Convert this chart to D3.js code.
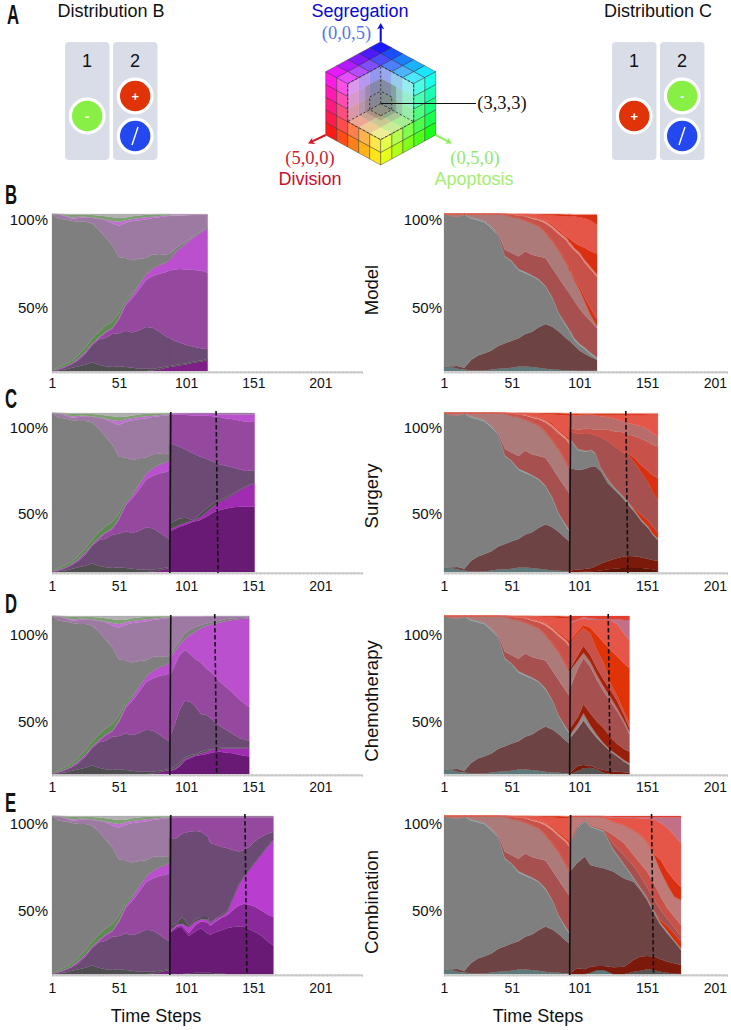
<!DOCTYPE html>
<html><head><meta charset="utf-8">
<script src="https://cdnjs.cloudflare.com/ajax/libs/d3/7.8.5/d3.min.js"></script>
<style>html,body{margin:0;padding:0;background:#fff}svg{display:block}text{font-family:"Liberation Sans",Arial,sans-serif;fill:#111}</style>
</head><body><svg id="c" width="731" height="1030"></svg>
<script>
// ---------- tick labels ----------
const timeTicks=[1,51,101,151,201];
const percentTicks=[50,100];
const rowNames=["Model","Surgery","Chemotherapy","Combination"];
const rowLetters=["B","C","D","E"];
const FULL=100;

// ---------- pre-treatment, Distribution B (cumulative % from bottom) ----------
const lSteps=[1,6,11,16,21,26,31,36,41,46,51,56,61,66,71,76,81,86,89];
const lDark=[0,0,0,0,0,0,0,0,0,0,0,0,0,0,0,.3,1,2,2.5];
const lGrayDark=[0,.5,1,2,3,4,5.5,4,3,2.5,3,2.5,2,1.5,1.5,1.5,2,2.8,3.2];
const lDusky=[0,1,2.5,4.5,7,11,16.5,20,21,23.5,24,25.7,24.5,26,28,27.5,25,22,20.5];
const lMid=[0,1,2.5,4.5,8,12,17,21,24.5,27,33,42,46.5,52,58,60.5,62,63,64];
const lMagenta=[0,1.5,3,5,8.5,12.5,17.5,21.5,25,27.5,34,43.5,48.5,55,61.5,65,67.5,69,71];
const lGreen=[0,2.5,4.5,6.5,10.5,15,20.5,25,29,31.5,37,45.5,49.5,55.3,61.7,65.2,67.7,69.2,71.2];
const lGray=[100,97,96.5,95.5,95,95,94,90,85,80,72.5,72,70.5,71.5,72,74,74.5,74,75];
const lMauve=[100,99.7,98.5,97,97.5,98,97.5,97,96,94,92.5,94.5,95.5,96,96.5,97.5,98,98.5,98.7];
const lLightMag=[100,99.8,99,97.8,98.3,98.2,97.8,97.3,96.5,95.5,95,96,96.8,97.5,98,98.3,98.7,99,99.1];
const lTopGreen=[100,100,99.8,99.6,99.6,99.7,99.3,99,98.5,98,97.5,97.7,98.5,99,99.5,99.7,99.8,99.8,99.8];

// ---------- pre-treatment, Distribution C ----------
const rSteps=[1,6,11,16,21,26,31,36,41,46,51,56,61,66,71,76,81,86,91,94];
const rTeal=[2.5,2.5,1.5,1,.3,.3,.3,1,1.5,1.7,2,2.8,2.8,2.5,2,1.5,1,.8,.5,.4];
const rBrown=[2.5,3,3.2,2,7,9.8,11.3,13,16,17.6,19.3,20.8,23.6,25,27.8,30,28.2,25,21,19];
const rGray=[100,98.5,98,99.5,97.2,96,94.7,91,86.6,72.8,69.6,64.3,62.2,60.5,58,53.7,46.3,36,29,25];
const rEdge=[100,98.5,98,99.8,97.9,96.8,95.5,91.8,87,73.2,70,65,63,61,58.5,54.2,46.8,36.5,29.7,26];
const rRed=[100,98.6,98.2,99.9,98,97,95.8,92,87.8,77.3,75.2,73,76.2,74,73,71.9,65.5,59,52.7,49];
const rRose=[100,100,100,100,100,100,100,100,100,99.5,98,97.3,95.7,94,92,87.7,82.5,76.5,69,64];
const rVivid1=[100,100,100,100,100,100,100,100,100,99.6,98.2,97.5,96,94.3,92.4,88.2,83,77,69.8,65];
const rMid=[100,100,100,100,100,100,100,100,100,100,99.5,99,98.5,97,96,94,91,87,83.5,80];
const rPale=[100,100,100,100,100,100,100,100,100,100,99.7,99.3,99,97.8,97,95.5,92.5,88.5,85,82];
const rVivid2=[100,100,100,100,100,100,100,100,100,100,99.7,99.4,99.1,98,97.5,96,93.5,89.5,86,84];
const rBright=[100,100,100,100,100,100,100,100,100,100,100,100,100,99.8,99.5,99.3,99,98.8,98.5,98.5];
const rVivid3=[100,100,100,100,100,100,100,100,100,100,100,100,100,100,100,100,100,100,99.8,99.8];

// ---------- Model, Distribution B ----------
const bLSteps=[89,93,97,101,105,109,113,117];
const bLDark=[2.5,3.1,3.7,4.2,4.9,5.5,6.1,7];
const bLGrayDark=[3.2,3.8,4.4,5,5.7,6.3,6.9,7.8];
const bLDusky=[20.5,19,17.8,16.5,15.7,15,14.3,13.8];
const bLMid=[64,64.8,65,64.5,64.5,64.2,64,62.5];
const bLMagenta=[71,75.5,78.5,81,84,86.5,88.7,91];
const bLGray=[75,78,80.5,82.5,85,87.5,89.5,92];
const bLMauve=[98.7,98.9,99,99.2,99.3,99.4,99.5,99.5];

// ---------- Model, Distribution C ----------
const bRSteps=[94,97,101,105,109,113,114];
const bRTeal=[.4,.3,.2,.1,.1,.1,.1];
const bRBrown=[19,16.5,13,11,9,7.5,7];
const bRGray=[25,20,16.6,14,11,8.5,8];
const bREdge=[26,21,17.4,14.8,11.8,9.2,8.6];
const bRRed=[49,45,40,35.5,32,28,27.2];
const bRRose=[64,58,52,44,36,30,29];
const bRVivid1=[65,59,54,47,40.5,34,33];
const bRMid=[80,77,74,69,65,61,60];
const bRPale=[82,78.5,75.5,70.5,66.5,62.5,61.5];
const bRVivid2=[84,82,80,78.5,76.5,75,75];
const bRBright=[98.5,98.5,98,97.3,96,93.7,93];
const bRVivid3=[99.8,99.6,99.6,99.6,99.6,99.6,99.6];

// ---------- Surgery, Distribution B ----------
const cLSteps=[89,96,101,106,111,116,121,126,131,136,141,146,152];
const cLDark=[25.7,28.4,29.9,31.6,32.6,34.7,37.5,38.9,40,40.8,41,41,41];
const cLVivid=[26.9,29.5,31.2,32.4,34.1,37.5,41.1,44.2,46.3,48.8,51.6,53.7,55.8];
const cLGrayDark=[30.5,33.7,34.1,32.6,36.2,40,43.2,45.3,47.4,49.5,52,54.1,56.2];
const cLDusky=[81,79,76.8,74.7,72.6,71.2,69.5,67.8,66.7,65.7,64.4,63.6,64];
const cLMid=[98.9,98.9,98.7,98.5,98.5,98.3,97.9,97.5,96.6,96,95.2,94.5,94.3];
const cLBright=[99.5,99.5,99.5,99.4,99.4,99.4,99.3,99.2,99.2,99.1,99.1,99,99];

// ---------- Surgery, Distribution C ----------
const cRSteps=[94,100,105,110,113,117,122,127,132,137,142,147,152,155,159];
const cRMaroonDark=[0,0,.2,.4,.6,1,1.7,2.1,2.5,2.5,2.5,2.5,2.1,1.7,1];
const cRMaroon=[1,1.5,1.9,2.5,3.8,5.3,6.9,8.4,9.5,10.1,9.9,9.1,8.2,7.6,6.9];
const cRBrown=[65.3,64.2,64.8,66.3,66.3,63.2,55.8,51.6,47.4,42.1,37.5,31.6,27.4,23.6,20];
const cRGray=[83.2,76.8,75.8,76.2,74.1,64.8,57.9,52.6,48.4,43.2,37.9,32.2,27.8,24,20.4];
const cREdge=[84,77.4,76.4,76.8,74.7,65.4,58.5,53.2,49,43.8,38.5,32.7,28.3,24.4,20.8];
const cRVividLow=[84.1,77.5,76.5,76.9,74.8,65.5,58.6,53.3,49.1,44,40,35.8,32,28.6,24.8];
const cRRed=[88.4,86.7,87.4,86.7,85.9,84.6,82.1,78.9,75.4,73.7,68.4,62.1,55.8,50.5,45.3];
const cRVividMid=[88.5,86.8,87.5,86.8,86,84.7,82.2,79,75.5,74.5,71.5,67,63.2,61,59];
const cRMid=[90.5,89.5,90.1,89.9,89.5,89.5,89.5,88.4,88,86.7,85.3,83.6,81.7,80,78.9];
const cRRose=[98.5,98.5,98.9,98.9,98.5,97.9,97.3,96.4,95.2,93.7,92.6,91.6,89.5,87.4,85.3];
const cRBright=[98.7,98.7,99,99,98.7,98.5,98.5,98.5,98.6,98.7,98.8,98.8,98.9,99,98.9];
const cRVivid3=[99.4,99.4,99.4,99.4,99.4,99.4,99.4,99.4,99.4,99.4,99.4,99.4,99.4,99.4,99.4];

// ---------- Chemotherapy, Distribution B ----------
const dLSteps=[89,92,96,100,104,108,112,116,121,126,131,136,141,148];
const dLDark=[2,2.5,4.6,8.4,9.9,11.4,12,12.7,13.7,14.1,13.5,13.1,12,11];
const dLVivid=[2.2,3,5.5,9.3,10.7,12,13,14,15.6,15.8,16.3,16.3,16.3,16.3];
const dLGrayDark=[3,4.5,7.2,10.5,12,12.7,14.1,15.2,15.8,16.6,16.6,16.8,16.6,16.6];
const dLDusky=[24,30,40.5,46.4,45.8,42.6,38,37.3,34.2,30.4,27.8,25.1,22.6,21.1];
const dLMid=[62,67.9,75.3,78.5,75.9,72.6,70.5,66.9,63.3,58.4,54.9,51.1,46.8,42.2];
const dLMagenta=[72.6,76.8,81.6,85.2,88,90.1,92.2,93.7,94.9,95.8,96.8,97.5,98.1,98.5];
const dLGray=[74.3,79.5,83.8,89,91.6,93.2,94.3,95.2,96.2,97,98.1,98.5,98.7,98.9];
const dLMauve=[99.4,99.5,99.6,99.6,99.7,99.7,99.7,99.8,99.8,99.8,99.8,99.8,99.8,99.8];

// ---------- Chemotherapy, Distribution C ----------
const dRSteps=[94,100,104,109,114,119,124,129,134,138];
const dRGrayDark=[0,2.1,3.6,4,3,.8,0,0,0,0];
const dRMaroonLine=[.8,5.3,5.7,5.3,3.6,2.5,1.9,1.5,1.1,.8];
const dRBrown=[22.6,28.9,33.8,27.8,22.6,18.4,14.1,11,7.8,5.7];
const dRGrayLight=[24.7,32.1,38.4,31,24.7,19.4,15.2,12,8.9,6.8];
const dRMaroon=[28.9,36.3,44.3,38.4,33,28.9,23.2,19,15.8,14.1];
const dRRed=[54.2,66.9,73.2,67.9,59.5,52.1,45.8,39.5,32.1,24.7];
const dRRose=[65.4,72.2,76.8,71.1,62.7,55.3,48.5,41.6,33.8,26.8];
const dRMaroon2=[66.5,75.3,81.2,75.3,66.9,59.5,53.2,46,37,29];
const dRMid=[82.7,89,92.2,89,78.5,70,57.4,49,39.5,32.1];
const dRVivid=[84.4,90.7,94.3,92.8,88,83.1,78.5,74.3,70,66.9];
const dRBright=[95.4,97.5,98.5,97.5,97.5,97.5,97.5,94.9,89,84.4];
const dRMauve=[96.2,97.9,99.2,98.5,98.1,98.1,98.1,97.9,97.5,97.5];

// ---------- Combination, Distribution B ----------
const eLSteps=[89,94,98,103,108,112,117,119,122,127,132,136,140,144,148,152,157,162,166];
const eLBase=[0,0,0,.5,.8,.8,.8,.8,.5,.3,0,0,0,0,0,0,0,0,0];
const eLDark=[25.9,29.1,29.1,24.2,26.9,29.1,25.5,24.8,26.3,27.6,29.1,29.7,30.1,29.9,28.4,26.7,24.2,20.6,17.9];
const eLVivid=[26.9,30.1,30.5,25.9,31.2,33.3,32.6,30.5,32.6,35.4,37.5,40.6,43.2,44.4,43.8,42.7,40.2,37.5,36];
const eLBright=[27.6,31.2,31.8,29.5,33.3,34.7,34.3,31.8,34.3,36.4,39.6,48,55.8,61.3,65.5,70.1,75.4,80.6,84.8];
const eLGrayDark=[30.5,32.2,36.4,30.5,34.7,36,36,32.2,34.7,37.3,40.6,48.6,56.4,61.7,65.9,70.5,75.8,81.1,85.3];
const eLDusky=[85.9,85.9,89,90.1,90.5,90.1,87,82.7,82.1,80.6,79.6,78.5,77.5,78.5,80.6,83.8,86.9,89,90.1];
const eLMid=[99.2,99.2,99.2,99.2,99.2,99.2,99.2,99.2,99.2,99.2,99.2,99.2,99.2,99.2,99.2,99.2,99.2,99.2,99.2];

// ---------- Combination, Distribution C ----------
const eRSteps=[94,99,105,109,114,119,126,134,141,146,151,156,161,166,171,176];
const eRTeal=[0,0,0,.8,2.5,2.5,0,0,0,0,0,0,0,0,0,0];
const eRGrayDark=[0,0,0,.8,2.5,2.5,0,0,1.5,2,3,2.5,1.5,.8,.3,0];
const eRMaroon=[.4,3.6,3,4.6,5.1,5.1,4.2,4.6,8.9,11,11.4,11,9.3,7.8,6.8,5.7];
const eRBrown=[64.8,70,74.3,69,67.9,66.9,64.8,60.5,58.4,53.2,46.8,38.4,31,25.7,20.5,15.2];
const eRGray=[81.6,92.2,97,93.2,91.6,90.1,78.5,69,60.5,54.2,47.9,39.5,31.6,26.2,20.9,15.6];
const eREdge=[82.3,92.9,97.7,93.9,92.3,90.8,79.2,69.7,61.2,54.9,48.6,40.2,32.3,26.9,21.4,16.1];
const eRVividLow=[82.4,93,97.8,94,92.4,90.9,79.3,69.8,61.3,55,48.7,40.4,34,30.5,26,20.8];
const eRRed=[83,93.2,98,94.2,92.5,91.5,82.5,75,68.5,62,55,47,40.5,34.7,29.5,23.8];
const eRMid=[83.1,93.3,98.1,94.3,92.6,91.6,88,82.7,75.3,70,64.8,57.4,48.9,41.6,36.3,31];
const eRRose=[99.6,99.6,99.6,99.6,99.6,99.2,96.4,94.3,91.1,88,83.8,75.3,64.8,56.3,48.9,46.8];
const eRVivid=[99.7,99.7,99.7,99.7,99.7,99.3,96.5,94.4,91.2,88.1,83.9,76,72.2,64.8,59.5,54.9];
const eRBright=[99.8,99.8,99.8,99.8,99.8,99.6,99,99,98.7,98.5,98.3,97.9,95.7,92.4,88,82.7];
const eRMauve=[99.9,99.9,99.9,99.9,99.9,99.9,99.3,99.3,99.2,99.2,99.2,99.2,99.2,99.2,99.2,99.2];

// ---------- treatment start / end steps ----------
const lStarts=[null,89,89,89], lEnds=[null,124,123,145.5];
const rStarts=[null,94,94,94], rEnds=[null,136,123,155];

// ---------- colours ----------
const P={dp:"#7f1f88",deep:"#691a74",viv:"#a02cb2",dg:"#4f4f4f",dusky:"#6b4a74",mid:"#94499f",mag:"#bb50cf",grn:"#5c8a50",gray:"#7f7f7f",mauve:"#9c7aa2",lm:"#c070d0",tg:"#7da070",lg:"#b0aeb0"};
const R={teal:"#5f7a7c",brown:"#6e4343",gray:"#7f7f7f",edge:"#86a6a6",red:"#a65050",rose:"#ad7a7a",viv:"#d83010",mid:"#c8524a",pale:"#e0857c",bright:"#e55548",top:"#ee9a90",mar:"#7b1a0a",marD:"#5c1408",hot:"#e04030",mauve:"#c27087",gl:"#97888a",m2:"#a8220c",dg:"#555555"};

const lPreSeries=[lDark,lGrayDark,lDusky,lMid,lMagenta,lGreen,lGray,lMauve,lLightMag,lTopGreen];
const lPreColors=[P.dp,P.dg,P.dusky,P.mid,P.mag,P.grn,P.gray,P.mauve,P.lm,P.tg,P.lg];
const rPreSeries=[rTeal,rBrown,rGray,rEdge,rRed,rRose,rVivid1,rMid,rPale,rVivid2,rBright,rVivid3];
const rPreColors=[R.teal,R.brown,R.gray,R.edge,R.red,R.rose,R.viv,R.mid,R.pale,R.viv,R.bright,R.viv,R.top];

const postLeft=[
 {steps:bLSteps,series:[bLDark,bLGrayDark,bLDusky,bLMid,bLMagenta,bLGray,bLMauve],colors:[P.dp,P.dg,P.dusky,P.mid,"#bb50cf",P.gray,P.mauve,"#b59abb"]},
 {steps:cLSteps,series:[cLDark,cLVivid,cLGrayDark,cLDusky,cLMid,cLBright],colors:[P.deep,P.viv,P.dg,P.dusky,P.mid,P.mag,P.mauve]},
 {steps:dLSteps,series:[dLDark,dLVivid,dLGrayDark,dLDusky,dLMid,dLMagenta,dLGray,dLMauve],colors:[P.deep,P.viv,"#555555",P.dusky,P.mid,P.mag,P.gray,P.mauve,"#b59abb"]},
 {steps:eLSteps,series:[eLBase,eLDark,eLVivid,eLBright,eLGrayDark,eLDusky,eLMid],colors:["#4d3d50",P.deep,"#8a2a9a","#b93ecf",P.dg,P.dusky,P.mid,P.mauve]}
];
const postRight=[
 {steps:bRSteps,series:[bRTeal,bRBrown,bRGray,bREdge,bRRed,bRRose,bRVivid1,bRMid,bRPale,bRVivid2,bRBright,bRVivid3],colors:rPreColors},
 {steps:cRSteps,series:[cRMaroonDark,cRMaroon,cRBrown,cRGray,cREdge,cRVividLow,cRRed,cRVividMid,cRMid,cRRose,cRBright,cRVivid3],colors:[R.marD,R.mar,R.brown,R.gray,R.edge,R.viv,R.red,R.viv,R.mid,"#b96d6a",R.bright,R.viv,R.top]},
 {steps:dRSteps,series:[dRGrayDark,dRMaroonLine,dRBrown,dRGrayLight,dRMaroon,dRRed,dRRose,dRMaroon2,dRMid,dRVivid,dRBright,dRMauve],colors:[R.dg,R.mar,R.brown,R.gl,"#9a1f0a",R.red,R.rose,R.m2,R.mid,"#e03408",R.bright,R.mauve,R.hot]},
 {steps:eRSteps,series:[eRTeal,eRGrayDark,eRMaroon,eRBrown,eRGray,eREdge,eRVividLow,eRRed,eRMid,eRRose,eRVivid,eRBright,eRMauve],colors:[R.teal,R.dg,R.mar,R.brown,R.gray,R.edge,R.viv,R.red,R.mid,"#c07a78",R.viv,R.bright,R.mauve,R.hot]}
];

const svg=d3.select("#c");
const rowPx=[[214,371],[413,572],[616,774],[816,974]];
const labelPx=[[308,220],[514,428],[722,635],[911,824]];
const tickPad=[7,9,8,9];
const rowLabelY=[290,496,701,902];
const xLeft=d3.scaleLinear().domain([1,232]).range([52,362]);
const xRight=d3.scaleLinear().domain([1,210]).range([444,727]);

// lead: how many steps the block is drawn back under the previous block, so no white seam shows between them
function drawBands(g,x,y,steps,series,colors,lead=0){
  const tops=series.concat([steps.map(()=>FULL)]);
  const area=d3.area().x(d=>x(d.t)).y0(d=>y(d.lo)).y1(d=>y(d.hi));
  tops.forEach((top,i)=>{
    const rows=steps.map((t,k)=>({t,lo:i?tops[i-1][k]:0,hi:top[k]}));
    if(rows.every(r=>r.hi-r.lo<=0)) return;
    if(lead) rows.unshift({t:steps[0]-lead,lo:rows[0].lo,hi:rows[0].hi});
    g.append("path").attr("d",area(rows)).attr("fill",colors[i]).attr("stroke",colors[i]).attr("stroke-width",.25);
  });
}
function drawAxes(g,x,row,labelRight){
  const bottom=rowPx[row][1];
  const [d0,d1]=x.domain();
  const minor=d3.axisBottom(x).tickValues(d3.range(d0,d1+1)).tickSize(2).tickFormat("");
  const a=g.append("g").attr("transform",`translate(0,${bottom+.5})`).call(minor);
  a.select(".domain").attr("stroke","#c4c4c4");
  a.selectAll(".tick line").attr("stroke","#c0c0c0");
  const major=d3.axisBottom(x).tickValues(timeTicks).tickSize(0).tickPadding(tickPad[row]).tickFormat(d3.format("d"));
  const b=g.append("g").attr("transform",`translate(0,${bottom})`).call(major);
  b.select(".domain").remove();
  b.selectAll("text").style("font-size","14px").style("font-family",'"Liberation Sans"').attr("fill","#111");
  const ly=d3.scaleLinear().domain([50,100]).range(labelPx[row]);
  const c=g.append("g").attr("transform",`translate(${labelRight},0)`).call(d3.axisLeft(ly).tickValues(percentTicks).tickSize(0).tickPadding(0).tickFormat(d=>d+"%"));
  c.select(".domain").remove();
  c.selectAll("text").style("font-size","15px").style("font-family",'"Liberation Sans"').attr("fill","#111");
}
function drawMarks(g,x,y,start,end){
  if(start==null) return;
  g.append("line").attr("x1",x(start)+.7).attr("x2",x(start)-.3).attr("y1",y(100)-1).attr("y2",y(0)+1).attr("stroke","#151015").attr("stroke-width",1.6);
  g.append("line").attr("x1",x(end)-1).attr("x2",x(end)+1).attr("y1",y(100)-2).attr("y2",y(0)+1).attr("stroke","#151015").attr("stroke-width",1.6).attr("stroke-dasharray","4.5,2.5");
}
rowPx.forEach((px,row)=>{
  const y=d3.scaleLinear().domain([0,100]).range([px[1],px[0]]);
  const gl=svg.append("g");
  drawBands(gl,xLeft,y,lSteps,lPreSeries,lPreColors);
  drawBands(gl,xLeft,y,postLeft[row].steps,postLeft[row].series,postLeft[row].colors,.6);
  drawAxes(gl,xLeft,row,48);
  drawMarks(gl,xLeft,y,lStarts[row],lEnds[row]);
  const gr=svg.append("g");
  drawBands(gr,xRight,y,rSteps,rPreSeries,rPreColors);
  drawBands(gr,xRight,y,postRight[row].steps,postRight[row].series,postRight[row].colors,.6);
  drawAxes(gr,xRight,row,442);
  drawMarks(gr,xRight,y,rStarts[row],rEnds[row]);
  svg.append("text").attr("transform",`translate(378,${rowLabelY[row]}) rotate(-90)`).attr("text-anchor","middle").style("font-size","18.5px").text(rowNames[row]);
});
[156,538].forEach(cx=>svg.append("text").attr("x",cx).attr("y",1022).attr("text-anchor","middle").style("font-size","18px").text("Time Steps"));

// panel letters
const letterY=[24,204,408,613,812];
["A"].concat(rowLetters).forEach((l,i)=>svg.append("text").attr("transform",`translate(${i?5:7},${letterY[i]}) scale(.62,1)`).style("font-size","27px").style("font-weight","700").style("font-family",'"Liberation Sans"').text(l));

// distribution boxes
function dist(titleText,titleX,box1X,box2X,one,two){
  svg.append("text").attr("x",titleX).attr("y",17).attr("text-anchor","middle").style("font-size","18px").text(titleText);
  [[box1X,"1",one],[box2X,"2",two]].forEach(([bx,n,list])=>{
    svg.append("rect").attr("x",bx).attr("y",42).attr("width",44.5).attr("height",118).attr("rx",4).attr("fill","#d8dde8");
    svg.append("text").attr("x",bx+22).attr("y",67).attr("text-anchor","middle").style("font-size","18px").text(n);
    list.forEach(s=>{
      svg.append("circle").attr("cx",bx+22.2).attr("cy",s.y).attr("r",16.8).attr("fill",s.c).attr("stroke","#fff").attr("stroke-width",3.2);
      if(s.t==="/") svg.append("line").attr("x1",bx+19).attr("x2",bx+25).attr("y1",s.y+9).attr("y2",s.y-9).attr("stroke","#fff").attr("stroke-width",1.4);
      else svg.append("text").attr("x",bx+22.2).attr("y",s.y+4.5).attr("text-anchor","middle").style("font-size","13px").style("font-weight","700").style("fill","#fff").text(s.t);
    });
  });
}
const GREEN="#88ef44",RED="#e03308",BLUE="#2348f0";
dist("Distribution B",111,65,113,[{y:116,c:GREEN,t:"-"}],[{y:96,c:RED,t:"+"},{y:136,c:BLUE,t:"/"}]);
dist("Distribution C",658,612,660,[{y:116,c:RED,t:"+"}],[{y:96,c:GREEN,t:"-"},{y:136,c:BLUE,t:"/"}]);

// RGB cube
const cube=svg.append("g");
const sx=d3.scaleLinear().domain([-5,5]).range([380.7-55,380.7+55]);
const sy=d3.scaleLinear().domain([0,10]).range([105,165]);
const sz=d3.scaleLinear().domain([0,5]).range([0,63.3]);
const pr=(a,b,c)=>[sx(b-a),sy(a+b)-sz(c)];
const poly=pts=>pts.map(p=>p.join(",")).join(" ");
const col=(a,b,c,m=0)=>{const f=v=>Math.round(v/5*255*(1-m)+255*m);return `rgb(${f(a)},${f(b)},${f(c)})`;};
const faces=[];
const inner=[];
for(let i=0;i<5;i++)for(let j=0;j<5;j++){
  if(i>=2&&j>=2){
    inner.push({p:[pr(i,j,2),pr(i+1,j,2),pr(i+1,j+1,2),pr(i,j+1,2)],f:col(i+.5,j+.5,2,.3)});
    inner.push({p:[pr(i,2,j),pr(i+1,2,j),pr(i+1,2,j+1),pr(i,2,j+1)],f:col(i+.5-.6,2,j+.5,.32)});
    inner.push({p:[pr(2,i,j),pr(2,i+1,j),pr(2,i+1,j+1),pr(2,i,j+1)],f:col(2,i+.5,j+.5,.32)});
  }else{
    faces.push({p:[pr(i,j,5),pr(i+1,j,5),pr(i+1,j+1,5),pr(i,j+1,5)],f:col(i+.5,j+.5,5)});
    faces.push({p:[pr(5,i,j),pr(5,i+1,j),pr(5,i+1,j+1),pr(5,i,j+1)],f:col(5,i+.5,j+.5)});
    faces.push({p:[pr(i,5,j),pr(i+1,5,j),pr(i+1,5,j+1),pr(i,5,j+1)],f:col(i+.5,5,j+.5)});
  }
}
cube.selectAll(".in").data(inner).enter().append("polygon").attr("points",d=>poly(d.p)).attr("fill",d=>d.f).attr("stroke",d=>d.f).attr("stroke-width",.4);
cube.append("polygon").attr("points",poly([pr(2,2,2),pr(3.4,2,2),pr(3.4,2,4),pr(2,2,4)])).attr("fill","#606060").attr("opacity",.28);
cube.append("polygon").attr("points",poly([pr(2,2,2),pr(2,3.4,2),pr(2,3.4,4),pr(2,2,4)])).attr("fill","#606060").attr("opacity",.38);
cube.append("polygon").attr("points",poly([pr(2,2,2),pr(3.4,2,2),pr(3.4,3.4,2),pr(2,3.4,2)])).attr("fill","#606060").attr("opacity",.3);
cube.selectAll(".out").data(faces).enter().append("polygon").attr("points",d=>poly(d.p)).attr("fill",d=>d.f).attr("stroke","#1a1a1a").attr("stroke-width",.5).attr("stroke-opacity",.75);
const dashes=[[pr(2,2,2),pr(5,2,2)],[pr(2,2,2),pr(2,5,2)],[pr(2,2,2),pr(2,2,5)],[pr(5,2,2),pr(5,5,2)],[pr(2,5,2),pr(5,5,2)],[pr(5,2,2),pr(5,2,5)],[pr(2,5,2),pr(2,5,5)],[pr(5,2,5),pr(2,2,5)],[pr(2,5,5),pr(2,2,5)],[pr(3,3,2),pr(3,2,2)],[pr(3,3,2),pr(2,3,2)],[pr(3,2,2),pr(3,2,3)],[pr(2,3,2),pr(2,3,3)],[pr(3,2,3),pr(2,2,3)],[pr(2,3,3),pr(2,2,3)]];
cube.selectAll(".d").data(dashes).enter().append("line").attr("x1",d=>d[0][0]).attr("y1",d=>d[0][1]).attr("x2",d=>d[1][0]).attr("y2",d=>d[1][1]).attr("stroke","#111").attr("stroke-width",.7).attr("stroke-dasharray","2.5,1.8");
// arrows
function arrow(p0,p1,c){
  const a=Math.atan2(p1[1]-p0[1],p1[0]-p0[0]),L=7.5,W=.5;
  svg.append("line").attr("x1",p0[0]).attr("y1",p0[1]).attr("x2",p1[0]-Math.cos(a)*3).attr("y2",p1[1]-Math.sin(a)*3).attr("stroke",c).attr("stroke-width",2);
  svg.append("path").attr("d",`M${p1[0]},${p1[1]}L${p1[0]-L*Math.cos(a-W)},${p1[1]-L*Math.sin(a-W)}L${p1[0]-L*.6*Math.cos(a)},${p1[1]-L*.6*Math.sin(a)}L${p1[0]-L*Math.cos(a+W)},${p1[1]-L*Math.sin(a+W)}Z`).attr("fill",c);
}
arrow(pr(0,0,5),[pr(0,0,5)[0],23],"#0808d8");
arrow(pr(5,0,0),[308,143.5],"#d81820");
arrow(pr(0,5,0),[452,143.5],"#90ee60");
svg.append("line").attr("x1",381).attr("x2",476).attr("y1",103.5).attr("y2",103.5).attr("stroke","#111").attr("stroke-width",1);
[["Segregation",360,17,"#0808d0","Liberation Sans"],["Division",310,185,"#c8102e","Liberation Sans"],["Apoptosis",474,185,"#a2ee70","Liberation Sans"],
 ["(0,0,5)",346.5,39,"#5577ee","Liberation Serif"],["(5,0,0)",310,164,"#cc2233","Liberation Serif"],["(0,5,0)",475,164,"#8fe870","Liberation Serif"],["(3,3,3)",502,109,"#111","Liberation Serif"]]
.forEach(([t,x,y,c,f])=>svg.append("text").attr("x",x).attr("y",y).attr("text-anchor","middle").style("font-size",f==="Liberation Serif"?"18.5px":"18px").style("font-family",`"${f}"`).style("fill",c).text(t));
</script></body></html>
